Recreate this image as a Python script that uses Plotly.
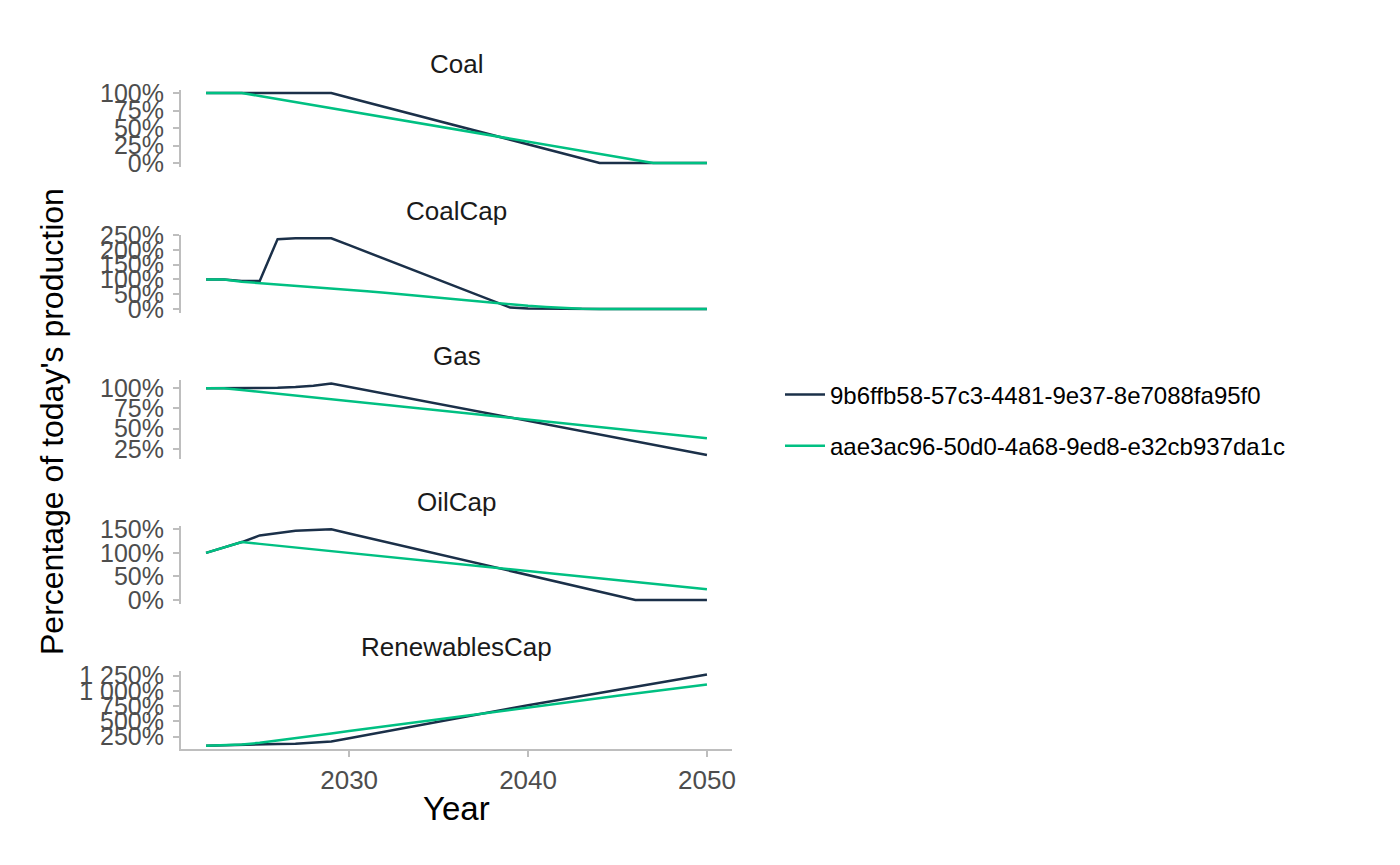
import plotly.graph_objects as go

# ---------------- data ----------------
years = list(range(2022, 2051))
scenarios = ["9b6ffb58-57c3-4481-9e37-8e7088fa95f0", "aae3ac96-50d0-4a68-9ed8-e32cb937da1c"]
sectors = ["Coal", "CoalCap", "Gas", "OilCap", "RenewablesCap"]

coal_a = [100, 100, 100, 100, 100, 100, 100, 100, 93.3, 86.7, 80, 73.3, 66.7, 60, 53.3,
          46.7, 40, 33.3, 26.7, 20, 13.3, 6.7, 0, 0, 0, 0, 0, 0, 0]
coal_b = [100, 100, 100, 95.7, 91.3, 87.0, 82.6, 78.3, 73.9, 69.6, 65.2, 60.9, 56.5, 52.2,
          47.8, 43.5, 39.1, 34.8, 30.4, 26.1, 21.7, 17.4, 13.0, 8.7, 4.3, 0, 0, 0, 0]

coalcap_a = [100, 100, 95, 95, 236, 239, 239, 239, 215.6, 192.2, 168.8, 145.4, 122, 98.6,
             75.2, 51.8, 28.4, 5, 1.5, 0.5, 0, 0, 0, 0, 0, 0, 0, 0, 0]
coalcap_b = [100, 100, 92, 87.7, 83.3, 79, 74.7, 70.3, 66, 60.4, 54.8, 49.1, 43.5, 37.9,
             32.3, 26.6, 21, 16, 11, 7, 3.5, 1, 0, 0, 0, 0, 0, 0, 0]

gas_a = [100, 100, 100, 100, 100.5, 101.5, 103, 105.8, 101.6, 97.4, 93.2, 89.0, 84.8, 80.6,
         76.4, 72.2, 68.0, 63.8, 59.6, 55.4, 51.2, 47.0, 42.9, 38.7, 34.5, 30.3, 26.1, 21.9, 17.7]
gas_b = [100, 100, 97.7, 95.4, 93.1, 90.9, 88.6, 86.3, 84.0, 81.7, 79.4, 77.1, 74.9, 72.6,
         70.3, 68.0, 65.7, 63.4, 61.1, 58.9, 56.6, 54.3, 52.0, 49.7, 47.4, 45.1, 42.9, 40.6, 38.3]

oilcap_a = [100, 112, 123, 137, 142, 147, 148.5, 150, 141.2, 132.4, 123.5, 114.7, 105.9, 97.1,
            88.2, 79.4, 70.6, 61.8, 52.9, 44.1, 35.3, 26.5, 17.6, 8.8, 0, 0, 0, 0, 0]
oilcap_b = [100, 112, 123, 119.1, 115.3, 111.4, 107.6, 103.7, 99.8, 96.0, 92.1, 88.3, 84.4, 80.5,
            76.7, 72.8, 69.0, 65.1, 61.2, 57.4, 53.5, 49.7, 45.8, 41.9, 38.1, 34.2, 30.4, 26.5, 22.6]

renew_a = [100, 110, 118, 125, 130, 135, 150, 170, 225, 280, 335, 390, 445, 500, 555, 610,
           663, 713, 763, 814, 864, 914, 965, 1015, 1065, 1116, 1166, 1216, 1266]
renew_b = [100, 110, 120, 150, 185, 222, 262, 302, 342, 381, 420, 460, 499, 538, 577, 616,
           656, 695, 734, 771, 808, 845, 882, 919, 955, 992, 1029, 1066, 1103]

series = {
    "Coal": (coal_a, coal_b),
    "CoalCap": (coalcap_a, coalcap_b),
    "Gas": (gas_a, gas_b),
    "OilCap": (oilcap_a, oilcap_b),
    "RenewablesCap": (renew_a, renew_b),
}

y_tickvals = {
    "Coal": [0, 25, 50, 75, 100],
    "CoalCap": [0, 50, 100, 150, 200, 250],
    "Gas": [25, 50, 75, 100],
    "OilCap": [0, 50, 100, 150],
    "RenewablesCap": [250, 500, 750, 1000, 1250],
}
y_ticktext = {
    "Coal": ["0%", "25%", "50%", "75%", "100%"],
    "CoalCap": ["0%", "50%", "100%", "150%", "200%", "250%"],
    "Gas": ["25%", "50%", "75%", "100%"],
    "OilCap": ["0%", "50%", "100%", "150%"],
    "RenewablesCap": ["250%", "500%", "750%", "1 000%", "1 250%"],
}
x_tickvals = [2030, 2040, 2050]

# ---------------- styling / layout ----------------
W, H = 1400, 865
colors = ["#1B3049", "#00C082"]
FONT = "Liberation Sans, Arial, Helvetica, sans-serif"
AXIS_COL = "#BEBEBE"
TICK_COL = "#4D4D4D"

x_left, x_right = 181, 732
panel_px = {  # (top, bottom) in pixels
    "Coal": (89.5, 166.5),
    "CoalCap": (234.7, 312.6),
    "Gas": (379.9, 458.5),
    "OilCap": (525.8, 603.5),
    "RenewablesCap": (671.0, 749.4),
}
strip_y = {"Coal": 64, "CoalCap": 211, "Gas": 356, "OilCap": 502, "RenewablesCap": 647}

def yp(px):
    return 1 - px / H

fig = go.Figure()
layout = dict(
    width=W, height=H,
    margin=dict(l=0, r=0, t=0, b=0, autoexpand=False),
    paper_bgcolor="white", plot_bgcolor="white",
    font=dict(family=FONT, size=24, color="#000000"),
    showlegend=True,
)
annotations = []

for i, s in enumerate(sectors):
    n = i + 1
    xa = "x" if n == 1 else f"x{n}"
    ya = "y" if n == 1 else f"y{n}"
    a, b = series[s]
    for k, vals in enumerate((a, b)):
        fig.add_trace(go.Scatter(
            x=years, y=vals, mode="lines", xaxis=xa, yaxis=ya,
            name=scenarios[k], legendgroup=scenarios[k], showlegend=(i == 0),
            line=dict(color=colors[k], width=2.5),
        ))
    top, bot = panel_px[s]
    allv = a + b
    lo, hi = min(allv), max(allv)
    pad = (hi - lo) * 0.05
    is_last = (i == len(sectors) - 1)
    layout["xaxis" if n == 1 else f"xaxis{n}"] = dict(
        domain=[x_left / W, x_right / W], anchor=ya,
        range=[2022 - 28 * 0.05, 2050 + 28 * 0.05],
        visible=is_last, showgrid=False, zeroline=False,
        showline=True, linecolor=AXIS_COL, linewidth=2,
        ticks="outside", ticklen=6, tickwidth=2, tickcolor=AXIS_COL,
        tickvals=x_tickvals, tickfont=dict(size=26, color=TICK_COL),
        automargin=False,
    )
    layout["yaxis" if n == 1 else f"yaxis{n}"] = dict(
        domain=[yp(bot), yp(top)], anchor=xa,
        range=[lo - pad, hi + pad],
        showgrid=False, zeroline=False,
        showline=True, linecolor=AXIS_COL, linewidth=2,
        ticks="outside", ticklen=6, tickwidth=2, tickcolor=AXIS_COL,
        tickvals=y_tickvals[s], ticktext=y_ticktext[s],
        tickfont=dict(size=25, color=TICK_COL), ticklabelstandoff=4,
        automargin=False,
    )
    annotations.append(dict(
        text=s, x=(x_left + x_right) / 2 / W, y=yp(strip_y[s]),
        xref="paper", yref="paper", showarrow=False,
        xanchor="center", yanchor="middle",
        font=dict(size=26, color="#1A1A1A"),
    ))

annotations.append(dict(text="Year", x=457 / W, y=yp(808), xref="paper", yref="paper",
                        showarrow=False, xanchor="center", yanchor="middle",
                        font=dict(size=33, color="#000000")))
annotations.append(dict(text="Percentage of today's production", x=52 / W, y=yp(422),
                        xref="paper", yref="paper", showarrow=False, textangle=-90,
                        xanchor="center", yanchor="middle",
                        font=dict(size=32, color="#000000")))

layout["annotations"] = annotations
layout["legend"] = dict(
    x=780 / W, y=yp(420.5), xanchor="left", yanchor="middle",
    font=dict(size=24, color="#000000"), tracegroupgap=17, itemwidth=40,
    bgcolor="rgba(0,0,0,0)", borderwidth=0,
)
fig.update_layout(**layout)
fig.write_html("out.html", config={"displayModeBar": False},
               post_script="document.body.style.margin='0px';")
